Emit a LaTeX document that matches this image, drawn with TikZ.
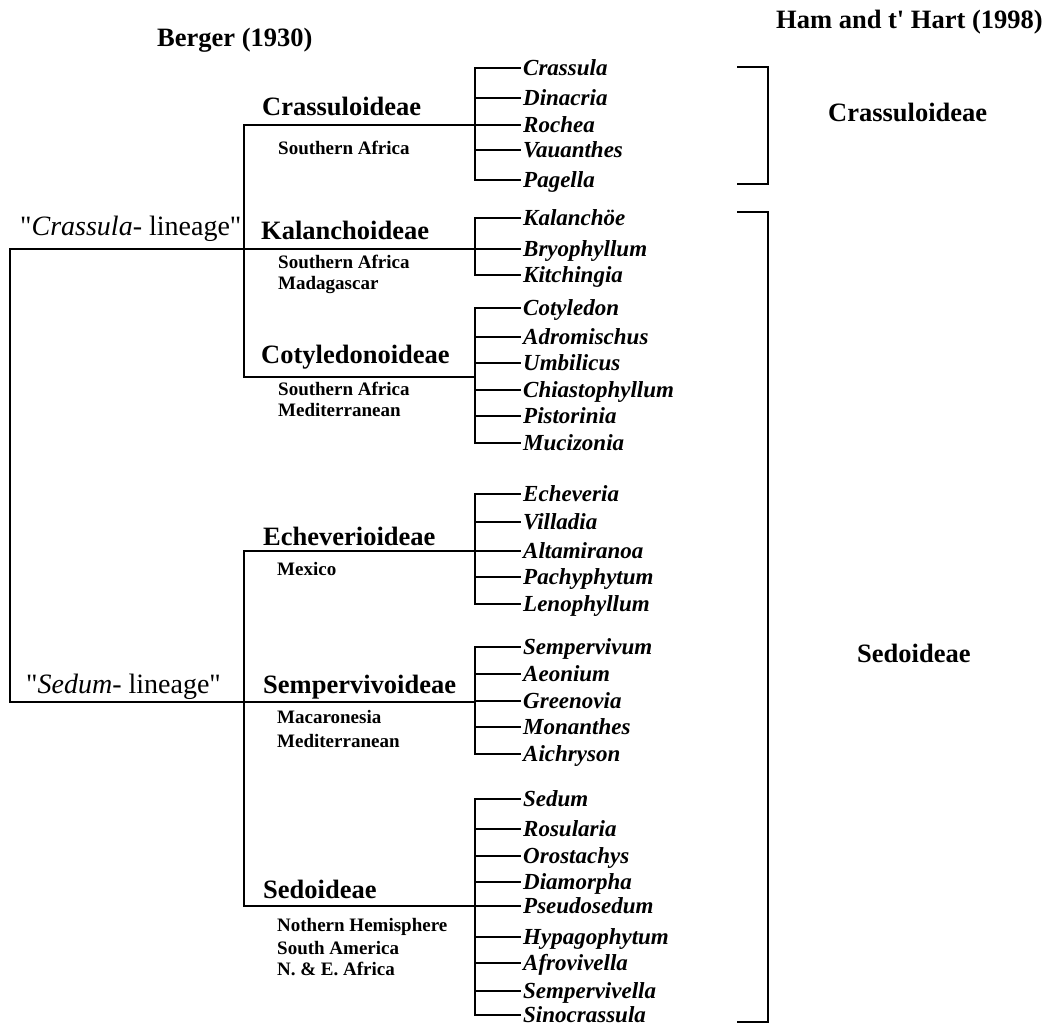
\documentclass[tikz,border=0pt]{standalone}
\usepackage{fontspec}
\setmainfont{Liberation Serif}[Ligatures=TeXOff]
\begin{document}
\begin{tikzpicture}[x=1pt,y=-1pt,
  ln/.style={line width=1.8pt, line cap=rect},
  genus/.style={font=\fontsize{23}{25}\selectfont\bfseries\itshape, inner sep=0pt, anchor=west, text height=14pt, text depth=0pt},
  big/.style={font=\fontsize{26.5}{30}\selectfont\bfseries, inner sep=0pt, anchor=base west},
  small/.style={font=\fontsize{19}{21}\selectfont\bfseries, inner sep=0pt, anchor=base west},
  lin/.style={font=\fontsize{28}{30}\selectfont, inner sep=0pt, anchor=base west}]
\useasboundingbox (0,0) rectangle (1049,1025);

% titles
\node[big] (berger) at (157,47) {Berger (1930)};
\node[big] (ham) at (776,29) {Ham and t' Hart (1998)};

% lineage labels
\node[lin] (crl) at (20,235) {"\textit{Crassula}- lineage"};
\node[lin] (sel) at (26,693) {"\textit{Sedum}- lineage"};

% subfamily labels (Berger)
\node[big] (s1) at (262,115) {Crassuloideae};
\node[small] (s1a) at (278,154) {Southern Africa};
\node[big] (s2) at (261,239) {Kalanchoideae};
\node[small] (s2a) at (278,268) {Southern Africa};
\node[small] (s2b) at (278,289) {Madagascar};
\node[big] (s3) at (261,363) {Cotyledonoideae};
\node[small] (s3a) at (278,395) {Southern Africa};
\node[small] (s3b) at (278,416) {Mediterranean};
\node[big] (s4) at (263,545) {Echeverioideae};
\node[small] (s4a) at (277,575) {Mexico};
\node[big] (s5) at (263,693) {Sempervivoideae};
\node[small] (s5a) at (277,723) {Macaronesia};
\node[small] (s5b) at (277,747) {Mediterranean};
\node[big] (s6) at (263,898) {Sedoideae};
\node[small] (s6a) at (277,931) {Nothern Hemisphere};
\node[small] (s6b) at (277,954) {South America};
\node[small] (s6c) at (277,975) {N. \& E. Africa};

% right labels (Ham and t' Hart)
\node[big] (r1) at (828,121) {Crassuloideae};
\node[big] (r2) at (857,662) {Sedoideae};

% tree coordinates
\coordinate (root1) at (10,249);
\coordinate (root2) at (10,702);
\coordinate (c1) at (244,125);
\coordinate (c2) at (244,249);
\coordinate (c3) at (244,377);
\coordinate (d1) at (244,551);
\coordinate (d2) at (244,702);
\coordinate (d3) at (244,906);
\coordinate (b1) at (475,125);
\coordinate (b2) at (475,249);
\coordinate (b3) at (475,377);
\coordinate (b4) at (475,551);
\coordinate (b5) at (475,702);
\coordinate (b6) at (475,906);

\draw[ln] (root1) -- (root2);
\draw[ln] (root1) -- (b2);
\draw[ln] (root2) -- (b5);
\draw[ln] (c1) -- (c3);
\draw[ln] (c1) -- (b1);
\draw[ln] (c3) -- (b3);
\draw[ln] (d1) -- (d3);
\draw[ln] (d1) -- (b4);
\draw[ln] (d3) -- (b6);

% genera
\foreach \n/\y/\t in {
  g1/68/Crassula, g2/98/Dinacria, g3/125/Rochea, g4/150/Vauanthes, g5/180/Pagella,
  g6/218/Kalanchöe, g7/249/Bryophyllum, g8/275/Kitchingia,
  g9/308/Cotyledon, g10/337/Adromischus, g11/363/Umbilicus, g12/390/Chiastophyllum, g13/416/Pistorinia, g14/443/Mucizonia,
  g15/494/Echeveria, g16/522/Villadia, g17/551/Altamiranoa, g18/577/Pachyphytum, g19/604/Lenophyllum,
  g20/647/Sempervivum, g21/674/Aeonium, g22/701/Greenovia, g23/727/Monanthes, g24/754/Aichryson,
  g25/799/Sedum, g26/829/Rosularia, g27/856/Orostachys, g28/882/Diamorpha, g29/906/Pseudosedum,
  g30/937/Hypagophytum, g31/963/Afrovivella, g32/991/Sempervivella, g33/1015/Sinocrassula}{
  \node[genus] (\n) at (523,\y) {\t};
  \draw[ln] (475,\y) -- ([xshift=-3pt]\n.west);
}
\draw[ln] (475,68) -- (475,180);
\draw[ln] (475,218) -- (475,275);
\draw[ln] (475,308) -- (475,443);
\draw[ln] (475,494) -- (475,604);
\draw[ln] (475,647) -- (475,754);
\draw[ln] (475,799) -- (475,1015);

% right brackets
\coordinate (k1) at (738,67);
\coordinate (k2) at (738,184);
\coordinate (k3) at (738,212);
\coordinate (k4) at (738,1022);
\draw[ln] (k1) -- ++(30,0) |- (k2);
\draw[ln] (k3) -- ++(30,0) |- (k4);
\end{tikzpicture}
\end{document}
